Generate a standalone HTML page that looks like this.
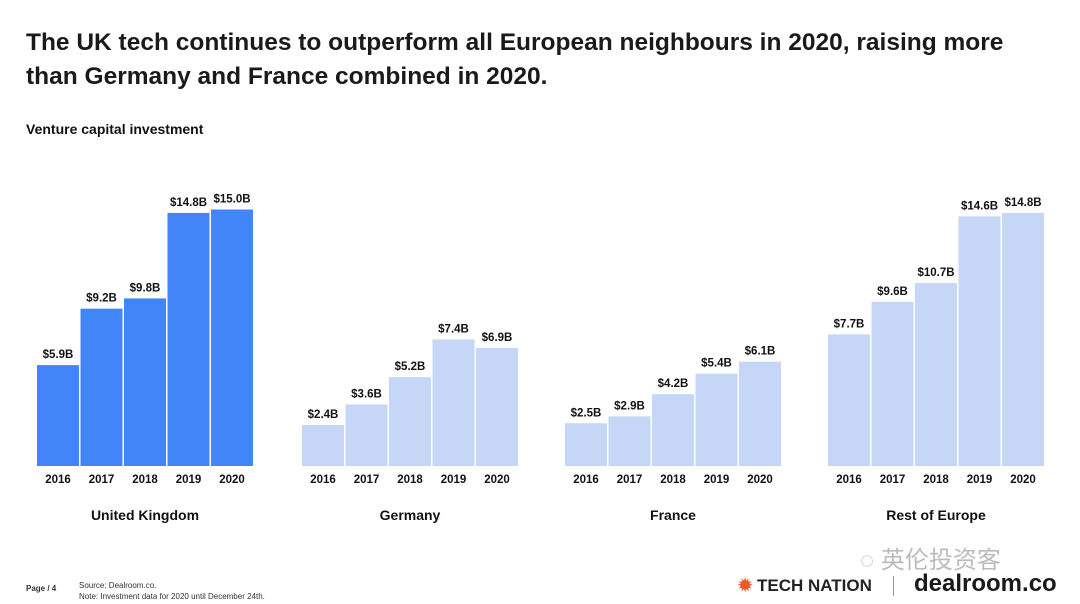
<!DOCTYPE html>
<html><head><meta charset="utf-8"><style>
body{margin:0;width:1080px;height:604px;background:#fff;font-family:"Liberation Sans","Noto Sans CJK SC",sans-serif;overflow:hidden;position:relative;color:#111}
h1{position:absolute;left:26px;top:26px;margin:0;font-size:24.5px;line-height:34px;font-weight:bold;color:#1a1a1a}
.sub{position:absolute;left:26px;top:121px;font-size:14px;font-weight:bold}
.foot{position:absolute;font-size:8px;color:#333}
</style></head><body>
<h1>The UK tech continues to outperform all European neighbours in 2020, raising more<br>than Germany and France combined in 2020.</h1>
<div class="sub">Venture capital investment</div>
<svg id="chart" width="1080" height="604" style="position:absolute;left:0;top:0"></svg>
<div class="foot" style="left:26px;top:584px;font-weight:bold">Page / 4</div>
<div class="foot" style="left:79px;top:580px;line-height:11px">Source: Dealroom.co.<br>Note: Investment data for 2020 until December 24th.</div>
<div style="position:absolute;left:860px;top:540px;font-size:24px;color:#bbb">◌ 英伦投资客</div>
<div style="position:absolute;left:738px;top:576px;font-size:17px;font-weight:bold;color:#222"><span style="color:#f05a28">✹</span> TECH NATION</div>
<div style="position:absolute;left:893px;top:576px;width:1px;height:20px;background:#999"></div>
<div style="position:absolute;left:914px;top:570px;font-size:24px;font-weight:bold;color:#1a1a1a">dealroom.co</div>
<script>
const years=["2016","2017","2018","2019","2020"];
const regions=["United Kingdom","Germany","France","Rest of Europe"];
const ukValues=[5.9,9.2,9.8,14.8,15.0];
const germanyValues=[2.4,3.6,5.2,7.4,6.9];
const franceValues=[2.5,2.9,4.2,5.4,6.1];
const restValues=[7.7,9.6,10.7,14.6,14.8];
const series=[ukValues,germanyValues,franceValues,restValues];
const groupX=[37,302,565,828], barW=42, step=43.5, base=466, scale=17.1;
const y=v=>base-v*scale;
const svg=document.getElementById('chart');
const NS="http://www.w3.org/2000/svg";
function mk(t,a){const e=document.createElementNS(NS,t);for(const k in a)e.setAttribute(k,a[k]);svg.appendChild(e);return e;}
series.forEach((vals,g)=>{
  vals.forEach((v,i)=>{
    const x=groupX[g]+i*step;
    const r=mk('rect',{x:x,y:y(v),width:barW,height:base-y(v),fill:g===0?'#4285f8':'#c6d6f6'});
    
    
    const t=mk('text',{x:x+barW/2,y:y(v)-7,'text-anchor':'middle','font-size':11.5,'font-weight':'bold',fill:'#111'});
    t.textContent='$'+v.toFixed(1)+'B';
    
    
    const yl=mk('text',{x:x+barW/2,y:483,'text-anchor':'middle','font-size':11.5,'font-weight':'bold',fill:'#111'});
    yl.textContent=years[i];
    
    
  });
  const gl=mk('text',{x:groupX[g]+2*step+barW/2,y:520,'text-anchor':'middle','font-size':14,'font-weight':'bold',fill:'#111'});
  gl.textContent=regions[g];
  
  
});
</script>
</body></html>
